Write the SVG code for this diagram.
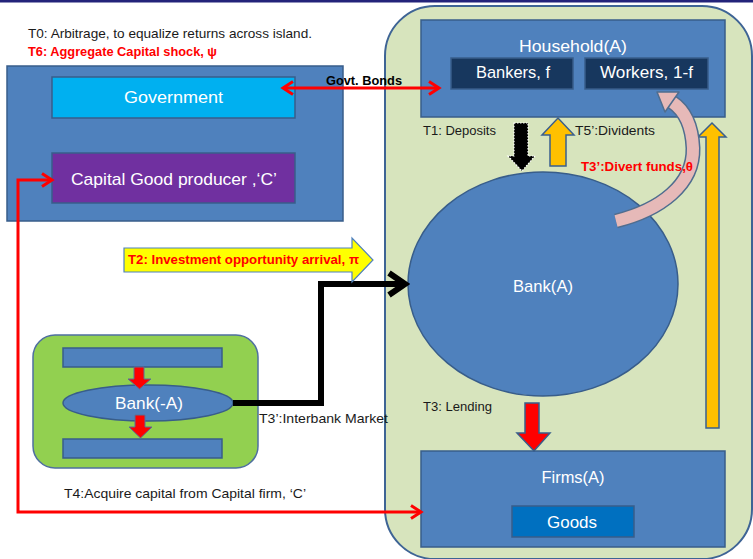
<svg xmlns="http://www.w3.org/2000/svg" width="753" height="559" viewBox="0 0 753 559">
<style>
text{font-family:"Liberation Sans",Arial,sans-serif}
.lbl{font-size:13px;fill:#1a1a1a}
.red{font-size:13px;font-weight:bold;fill:#ff0000}
.w{fill:#ffffff;font-size:17px;text-anchor:middle}
.box{fill:#4f81bd;stroke:#385d8a;stroke-width:1.5}
.dark{fill:#17375e;stroke:#385d8a;stroke-width:1.5}
</style>
<defs>
<marker id="ra" markerUnits="userSpaceOnUse" markerWidth="14" markerHeight="16" refX="11" refY="8" orient="auto-start-reverse">
<path d="M1,1.5 L11,8 L1,14.5" fill="none" stroke="#ff0000" stroke-width="3"/>
</marker>
<marker id="ba" markerUnits="userSpaceOnUse" markerWidth="24" markerHeight="28" refX="20" refY="14" orient="auto">
<path d="M3,3 L19,14 L3,25" fill="none" stroke="#000" stroke-width="6"/>
</marker>
</defs>
<rect x="0" y="0" width="753" height="2.5" fill="#23237a"/>
<g id="island-A">
<rect x="385" y="6" width="367" height="553" rx="50" fill="#d7e4bd" stroke="#3e6495" stroke-width="2"/>
</g>
<g id="left-panel">
<rect x="7" y="66" width="336" height="155" class="box"/>
</g>
<g id="government">
<rect x="52" y="77" width="243" height="41" fill="#00b0f0" stroke="#385d8a" stroke-width="1.5"/>
<text x="173.5" y="103" class="w" textLength="99" lengthAdjust="spacingAndGlyphs">Government</text>
</g>
<g id="capital-producer">
<rect x="52" y="153" width="243" height="50" fill="#7030a0" stroke="#385d8a" stroke-width="1.5"/>
<text x="174" y="185" class="w" textLength="206" lengthAdjust="spacingAndGlyphs">Capital Good producer ,‘C’</text>
</g>
<g id="household">
<rect x="421" y="20" width="304" height="97" class="box"/>
<text x="573" y="52" class="w" textLength="108" lengthAdjust="spacingAndGlyphs">Household(A)</text>
</g>
<g id="bankers">
<rect x="451" y="58" width="122" height="31" class="dark"/>
<text x="513" y="78" class="w" textLength="74" lengthAdjust="spacingAndGlyphs">Bankers, f</text>
</g>
<g id="workers">
<rect x="585" y="58" width="123" height="31" class="dark"/>
<text x="646.5" y="78" class="w" textLength="93" lengthAdjust="spacingAndGlyphs">Workers, 1-f</text>
</g>
<g id="bank-A">
<ellipse cx="543" cy="284" rx="135" ry="112" class="box"/>
<text x="543" y="292" class="w" textLength="60" lengthAdjust="spacingAndGlyphs">Bank(A)</text>
</g>
<g id="firms">
<rect x="421" y="451" width="304" height="96" class="box"/>
<text x="573" y="483" class="w" textLength="63" lengthAdjust="spacingAndGlyphs">Firms(A)</text>
</g>
<g id="goods">
<rect x="512" y="506" width="122" height="31" fill="#0070c0" stroke="#385d8a" stroke-width="1.5"/>
<text x="572" y="528" class="w" textLength="50" lengthAdjust="spacingAndGlyphs">Goods</text>
</g>
<g id="bank-minus-A">
<rect x="33" y="335" width="225" height="133" rx="22" fill="#92d050" stroke="#4f6fa0" stroke-width="1.5"/>
<rect x="63" y="348" width="159" height="19" class="box"/>
<rect x="63" y="439" width="159" height="19" class="box"/>
<ellipse cx="148" cy="403" rx="85" ry="18" class="box"/>
<text x="149" y="409" class="w" textLength="68" lengthAdjust="spacingAndGlyphs">Bank(-A)</text>
<polygon points="134,367 144,367 144,379 151,379 139.5,389 128,379 134,379" fill="#ff0000" stroke="#5a6f96" stroke-width="1"/>
<polygon points="135,415 145,415 145,427 152,427 140.5,438 129,427 135,427" fill="#ff0000" stroke="#5a6f96" stroke-width="1"/>
</g>
<g id="connectors">
<path d="M283,88 H439" fill="none" stroke="#ff0000" stroke-width="3" marker-start="url(#ra)" marker-end="url(#ra)"/>
<path d="M52,180 H18 V512 H421" fill="none" stroke="#ff0000" stroke-width="3" marker-start="url(#ra)" marker-end="url(#ra)"/>
<path d="M233,403 H321 V284 H406" fill="none" stroke="#000" stroke-width="6" marker-end="url(#ba)"/>
<polygon points="124,248 352,248 352,238 373,260 352,282 352,272 124,272" fill="#ffff00" stroke="#4f81bd" stroke-width="1.2"/>
<polygon points="514,123 528,123 528,156 535,156 522,171 508,156 514,156" fill="#000" stroke="#ffffff" stroke-width="1.2" stroke-dasharray="1.5 1.5"/>
<polygon points="550,166 566,166 566,135 574,135 558,118 542,135 550,135" fill="#ffc000" stroke="#3a5f8e" stroke-width="1.5"/>
<polygon points="706,428 719,428 719,137 726,137 712,123 698,137 706,137" fill="#ffc000" stroke="#3a5f8e" stroke-width="1.5"/>
<polygon points="525,403 539,403 539,433 550,433 534,451 517,433 525,433" fill="#ff0000" stroke="#385d8a" stroke-width="1.5"/>
<path d="M616,221 C660,210 694,185 693,148 C692,125 684,110 672,102" fill="none" stroke="#4f6d8f" stroke-width="15"/>
<path d="M616,221 C660,210 694,185 693,148 C692,125 684,110 672,102" fill="none" stroke="#e6b9b8" stroke-width="12"/>
<polygon points="679,92 657,92 665,112" fill="#e6b9b8" stroke="#4f6d8f" stroke-width="1.5" stroke-linejoin="round"/>
</g>
<g id="labels">
<text x="28" y="38" class="lbl" textLength="284" lengthAdjust="spacingAndGlyphs">T0: Arbitrage, to equalize returns across island.</text>
<text x="28" y="56" class="red" textLength="189" lengthAdjust="spacingAndGlyphs">T6: Aggregate Capital shock, ψ</text>
<text x="326" y="85" style="font-size:12.5px;font-weight:bold;fill:#000" textLength="76" lengthAdjust="spacingAndGlyphs">Govt. Bonds</text>
<text x="423" y="135" class="lbl" textLength="73" lengthAdjust="spacingAndGlyphs">T1: Deposits</text>
<text x="575" y="135" class="lbl" textLength="80" lengthAdjust="spacingAndGlyphs">T5’:Dividents</text>
<text x="581" y="171" class="red" textLength="112" lengthAdjust="spacingAndGlyphs">T3’:Divert funds,θ</text>
<text x="128" y="264" class="red" textLength="231" lengthAdjust="spacingAndGlyphs">T2: Investment opportunity arrival, π</text>
<text x="259" y="423" class="lbl" textLength="129" lengthAdjust="spacingAndGlyphs">T3’:Interbank Market</text>
<text x="423" y="411" class="lbl" textLength="69" lengthAdjust="spacingAndGlyphs">T3: Lending</text>
<text x="64" y="498" class="lbl" textLength="242" lengthAdjust="spacingAndGlyphs">T4:Acquire capital from  Capital firm, ‘C’</text>
</g>
</svg>
